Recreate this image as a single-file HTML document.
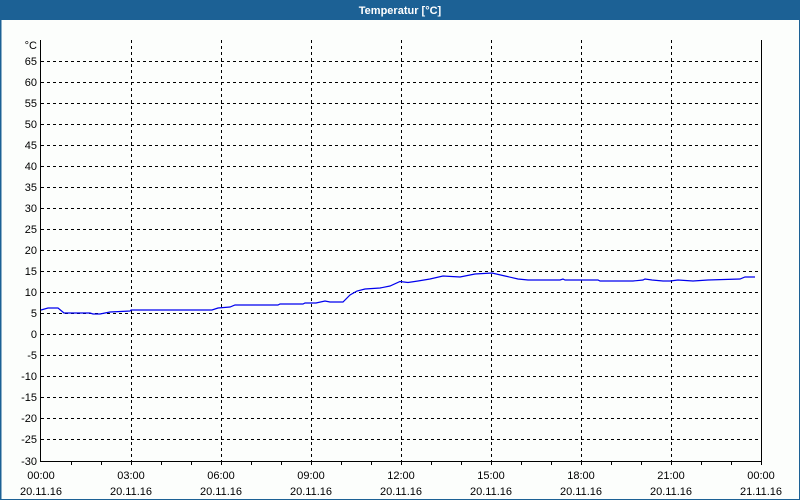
<!DOCTYPE html>
<html><head><meta charset="utf-8"><style>
html,body{margin:0;padding:0;background:#fff}
svg{display:block}
text{font-family:"Liberation Sans",sans-serif;font-size:11px;fill:#000}
</style></head><body>
<svg width="800" height="500" xmlns="http://www.w3.org/2000/svg">
<rect x="0" y="0" width="800" height="500" fill="#fcfefc"/>
<rect x="0.5" y="0.5" width="799" height="499" fill="none" stroke="#1c6195" stroke-width="1"/>
<rect x="0" y="0" width="1.5" height="500" fill="#1c6195"/>
<rect x="0" y="0" width="800" height="20" fill="#1c6195"/>
<text x="400" y="14" text-anchor="middle" style="fill:#fff;font-weight:bold;font-size:11px">Temperatur [°C]</text>
<g stroke="#000" stroke-width="1" stroke-dasharray="3,3" fill="none">
<path d="M41 61.5H761M41 82.5H761M41 103.5H761M41 124.5H761M41 145.5H761M41 166.5H761M41 187.5H761M41 208.5H761M41 229.5H761M41 250.5H761M41 271.5H761M41 292.5H761M41 313.5H761M41 334.5H761M41 355.5H761M41 376.5H761M41 397.5H761M41 418.5H761M41 439.5H761"/>
<path d="M131.5 40V461M221.5 40V461M311.5 40V461M401.5 40V461M491.5 40V461M581.5 40V461M671.5 40V461"/>
</g>
<g stroke="#000" stroke-width="1" fill="none">
<path d="M40.5 40V461.5H761.5V40"/>
<path d="M71.5 461v4M101.5 461v4M131.5 461v4M161.5 461v4M191.5 461v4M221.5 461v4M251.5 461v4M281.5 461v4M311.5 461v4M341.5 461v4M371.5 461v4M401.5 461v4M431.5 461v4M461.5 461v4M491.5 461v4M521.5 461v4M551.5 461v4M581.5 461v4M611.5 461v4M641.5 461v4M671.5 461v4M701.5 461v4M731.5 461v4M761.5 461v4"/>
</g>
<polyline fill="none" stroke="#0000ee" stroke-width="1.2" points="41,310 48,308 58,308 64,313 90,313 93,314 100,314 110,312 130,311 131,310 212,310 218,308 230,307 235,305 278,305 280,304 303,304 305,303 316,303 325,301 330,302 343,302 350,295 357,291 365,289 380,288 390,286 400,281.5 408,282.5 418,281 430,279 443,276 460,277 475,274 492,273 505,276 518,279 528,280 560,280 563,279 565,280 598,280 600,281 633,281 643,280 645,279 652,280 663,281 670,281 678,280 693,281 708,280 740,279 745,277 755,277"/>
<g text-anchor="end">
<text x="37" y="49">°C</text>
<text x="37" y="65">65</text><text x="37" y="86">60</text><text x="37" y="107">55</text><text x="37" y="128">50</text><text x="37" y="149">45</text><text x="37" y="170">40</text><text x="37" y="191">35</text><text x="37" y="212">30</text><text x="37" y="233">25</text><text x="37" y="254">20</text><text x="37" y="275">15</text><text x="37" y="296">10</text><text x="37" y="317">5</text><text x="37" y="338">0</text><text x="37" y="359">-5</text><text x="37" y="380">-10</text><text x="37" y="401">-15</text><text x="37" y="422">-20</text><text x="37" y="443">-25</text><text x="37" y="465">-30</text>
</g>
<g text-anchor="middle">
<text x="41" y="479">00:00</text><text x="41" y="495">20.11.16</text>
<text x="131" y="479">03:00</text><text x="131" y="495">20.11.16</text>
<text x="221" y="479">06:00</text><text x="221" y="495">20.11.16</text>
<text x="311" y="479">09:00</text><text x="311" y="495">20.11.16</text>
<text x="401" y="479">12:00</text><text x="401" y="495">20.11.16</text>
<text x="491" y="479">15:00</text><text x="491" y="495">20.11.16</text>
<text x="581" y="479">18:00</text><text x="581" y="495">20.11.16</text>
<text x="671" y="479">21:00</text><text x="671" y="495">20.11.16</text>
<text x="761" y="479">00:00</text><text x="761" y="495">21.11.16</text>
</g>
</svg>
</body></html>
